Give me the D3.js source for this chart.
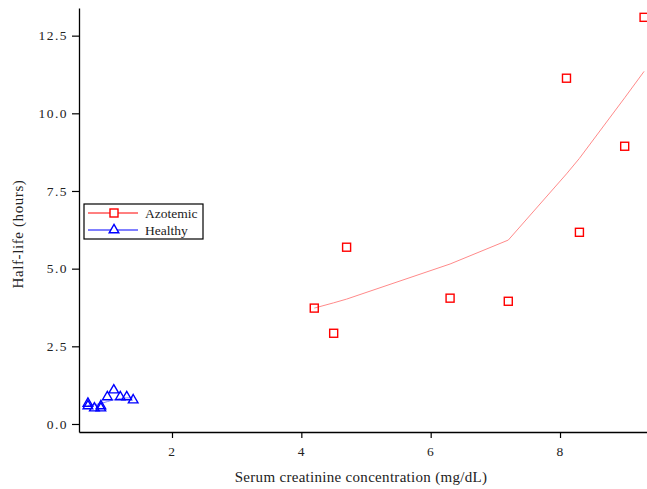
<!DOCTYPE html>
<html lang="en">
<head>
<meta charset="utf-8">
<title>Half-life vs serum creatinine</title>
<script src="https://cdn.jsdelivr.net/npm/d3@7"></script>
<style>
  body { margin: 0; background: #fff; }
  svg text { font-family: "Liberation Serif", "Times New Roman", serif; fill: #222; }
</style>
</head>
<body>
<svg id="chart" width="647" height="489"></svg>
<script>
// Azotemic group: observed points + fitted curve
var azoX   = [4.2, 4.5, 4.7, 6.3, 7.2, 8.1, 8.3, 9.0, 9.3];
var azoY   = [3.73, 2.92, 5.69, 4.05, 3.95, 11.13, 6.17, 8.94, 13.09];
var azoFit = [3.73, 3.90, 4.02, 5.15, 5.92, 8.05, 8.55, 10.50, 11.35];

// Healthy group
var hlX   = [0.7, 0.7, 0.8, 0.9, 0.9, 1.0, 1.1, 1.2, 1.3, 1.4];
var hlY   = [0.66, 0.58, 0.51, 0.58, 0.51, 0.87, 1.09, 0.87, 0.87, 0.77];
var hlFit = [0.60, 0.60, 0.62, 0.66, 0.66, 0.72, 0.78, 0.82, 0.84, 0.84];

var xTicks = [2, 4, 6, 8];
var yTicks = [0, 2.5, 5, 7.5, 10, 12.5];
var seriesNames = ["Azotemic", "Healthy"];

var svg = d3.select("#chart");
var margin = {top: 8, right: 0, bottom: 57, left: 79};
var width = 647 - margin.left - margin.right,
    height = 489 - margin.top - margin.bottom;

var x = d3.scaleLinear().domain([0.562, 9.345]).range([0, width]);
var y = d3.scaleLinear().domain([-0.258, 13.39]).range([height, 0]);

var g = svg.append("g").attr("transform", "translate(" + margin.left + "," + margin.top + ")");

// axes
var xAxis = g.append("g")
    .attr("transform", "translate(0," + height + ")")
    .call(d3.axisBottom(x).tickValues(xTicks).tickFormat(d3.format("d")).tickSize(6).tickPadding(8).tickSizeOuter(0));
var yAxis = g.append("g")
    .call(d3.axisLeft(y).tickValues(yTicks).tickFormat(d3.format(".1f")).tickSize(7).tickPadding(4).tickSizeOuter(0));

[xAxis, yAxis].forEach(function(a) {
  a.select(".domain").attr("stroke", "#000").attr("stroke-width", 1.3);
  a.selectAll(".tick line").attr("stroke", "#000").attr("stroke-width", 1.2);
  a.selectAll(".tick text")
    .style("font-size", "13.5px")
    .style("letter-spacing", "1.5px")
    .style("fill", "#222");
});

// axis titles
svg.append("text")
    .attr("x", margin.left + 282).attr("y", 482)
    .attr("text-anchor", "middle")
    .style("font-size", "15px").style("letter-spacing", "0.3px")
    .text("Serum creatinine concentration (mg/dL)");
svg.append("text")
    .attr("transform", "translate(23,234) rotate(-90)")
    .attr("text-anchor", "middle")
    .style("font-size", "15px").style("letter-spacing", "0.6px")
    .text("Half-life (hours)");

// fitted lines
var line = d3.line().x(function(d) { return x(d[0]); }).y(function(d) { return y(d[1]); });

g.append("path")
    .datum(d3.zip(azoX, azoFit))
    .attr("d", line).attr("fill", "none")
    .attr("stroke", "#ff8a8a").attr("stroke-width", 1);
g.append("path")
    .datum(d3.zip(hlX, hlFit))
    .attr("d", line).attr("fill", "none")
    .attr("stroke", "#8a8aff").attr("stroke-width", 1);

// markers
var sq = 8;
g.selectAll(".azo")
  .data(d3.zip(azoX, azoY))
  .enter().append("rect")
    .attr("x", function(d) { return x(d[0]) - sq / 2; })
    .attr("y", function(d) { return y(d[1]) - sq / 2; })
    .attr("width", sq).attr("height", sq)
    .attr("fill", "none").attr("stroke", "#ff0000").attr("stroke-width", 1.4);

var tri = d3.symbol().type(d3.symbolTriangle).size(40);
g.selectAll(".hl")
  .data(d3.zip(hlX, hlY))
  .enter().append("path")
    .attr("d", tri)
    .attr("transform", function(d) { return "translate(" + x(d[0]) + "," + y(d[1]) + ")"; })
    .attr("fill", "none").attr("stroke", "#0000ff").attr("stroke-width", 1.4);

// legend
var legend = svg.append("g").attr("transform", "translate(84,204)");
legend.append("rect")
    .attr("x", 0).attr("y", 0).attr("width", 119).attr("height", 35)
    .attr("fill", "#fff").attr("stroke", "#000").attr("stroke-width", 1.2);

var colors = ["#ff0000", "#0000ff"];
seriesNames.forEach(function(name, i) {
  var ly = 9 + i * 17;
  legend.append("line")
      .attr("x1", 4).attr("x2", 54).attr("y1", ly).attr("y2", ly)
      .attr("stroke", colors[i]).attr("stroke-width", 1);
  if (i === 0) {
    legend.append("rect")
        .attr("x", 26).attr("y", ly - 4).attr("width", 8).attr("height", 8)
        .attr("fill", "#fff").attr("stroke", colors[i]).attr("stroke-width", 1.4);
  } else {
    legend.append("path")
        .attr("d", tri)
        .attr("transform", "translate(30," + ly + ")")
        .attr("fill", "#fff").attr("stroke", colors[i]).attr("stroke-width", 1.4);
  }
  legend.append("text")
      .attr("x", 61).attr("y", ly + 4.5)
      .style("font-size", "13.5px")
      .text(name);
});
</script>
</body>
</html>
